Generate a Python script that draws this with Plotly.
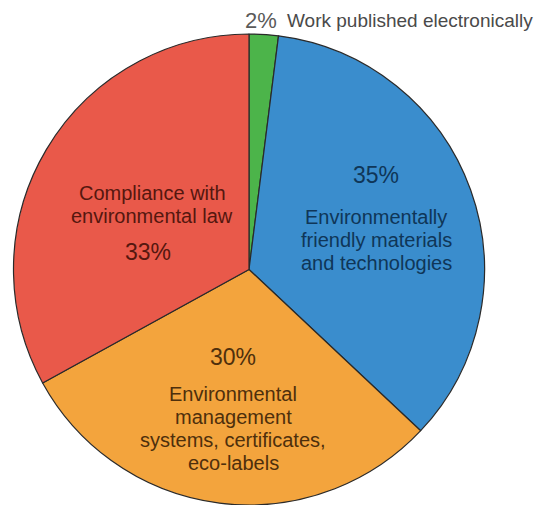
import plotly.graph_objects as go

# Share of environmental work areas
categories = [
    "Work published electronically",
    "Environmentally friendly materials and technologies",
    "Environmental management systems, certificates, eco-labels",
    "Compliance with environmental law",
]
shares = [2, 35, 30, 33]
slice_colors = ["#4cb44a", "#3a8dcd", "#f3a43d", "#e9594a"]
text_colors = ["#555555", "#0f3658", "#4e2f0c", "#55170f"]

# wrapped label lines drawn inside each large slice
label_lines = {
    1: ["Environmentally", "friendly materials", "and technologies"],
    2: ["Environmental", "management", "systems, certificates,", "eco-labels"],
    3: ["Compliance with", "environmental law"],
}

W, H = 537, 505
FONT = "Liberation Sans, Arial, Helvetica, sans-serif"
LINE_GAP = 23

fig = go.Figure(go.Pie(
    labels=categories,
    values=shares,
    sort=False,
    direction="clockwise",
    rotation=0,
    marker=dict(colors=slice_colors, line=dict(color="#2a2a2a", width=1.2)),
    textinfo="none",
    hoverinfo="label+percent",
    showlegend=False,
    domain=dict(x=[13 / W, 485 / W], y=[0.0, 1 - 34 / H]),
))


def at(x, y, anchor="center"):
    return dict(x=x / W, y=1 - y / H, xref="paper", yref="paper",
                xanchor=anchor, yanchor="middle", showarrow=False)


def pct(v):
    return f"{v}%"


ann = []


def block(i, cx, y0):
    for k, line in enumerate(label_lines[i]):
        ann.append(dict(**at(cx, y0 + k * LINE_GAP), text=line,
                        font=dict(family=FONT, size=20, color=text_colors[i])))


# small slice: label outside, top right
ann.append(dict(**at(243, 20, "left"), text=pct(shares[0]),
                font=dict(family=FONT, size=22, color="#5a5a5a")))
ann.append(dict(**at(285, 20, "left"), text=categories[0],
                font=dict(family=FONT, size=19, color="#4a4a4a")))
# blue slice
ann.append(dict(**at(376, 175), text=pct(shares[1]),
                font=dict(family=FONT, size=23, color=text_colors[1])))
block(1, 376, 217)
# orange slice
ann.append(dict(**at(233, 357), text=pct(shares[2]),
                font=dict(family=FONT, size=23, color=text_colors[2])))
block(2, 233, 394)
# red slice
block(3, 152, 193)
ann.append(dict(**at(148, 252), text=pct(shares[3]),
                font=dict(family=FONT, size=23, color=text_colors[3])))

fig.update_layout(
    width=W, height=H,
    margin=dict(l=0, r=0, t=0, b=0),
    paper_bgcolor="white",
    plot_bgcolor="white",
    annotations=ann,
)

fig.write_html("out.html")
